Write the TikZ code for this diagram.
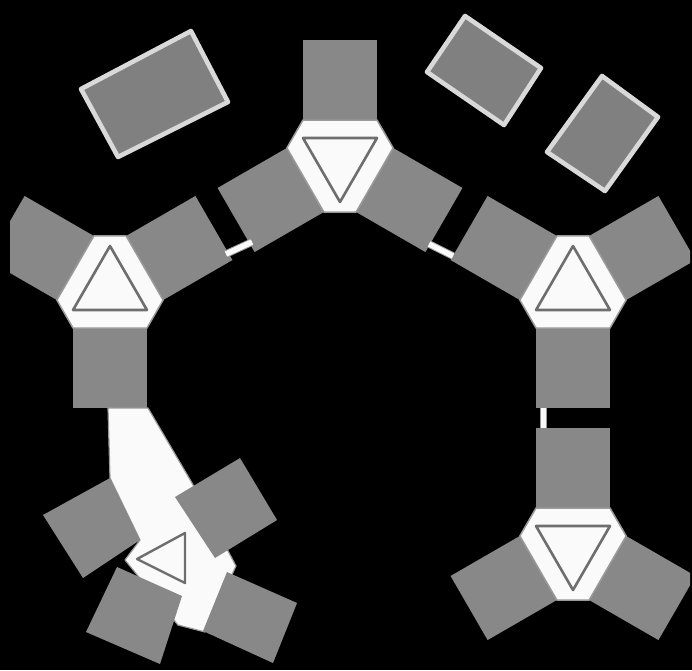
\documentclass[tikz,border=0pt]{standalone}
\begin{document}
\begin{tikzpicture}[x=1pt,y=-1pt]
\definecolor{armgray}{HTML}{888888}
\definecolor{rectgray}{HTML}{808080}
\definecolor{rectedge}{HTML}{D9D9D9}
\definecolor{hexwhite}{HTML}{FAFAFA}
\definecolor{hexedge}{HTML}{9A9A9A}
\definecolor{trigray}{HTML}{6E6E6E}
\tikzset{
  armfill/.style={fill=armgray},
  hexbody/.style={fill=hexwhite, draw=hexedge, line width=1.5pt, line join=round},
  triline/.style={draw=trigray, line width=2.6pt, line join=round},
  tile/.style={fill=rectgray, draw=rectedge, line width=4.6pt, line join=round},
  linkbar/.style={draw=hexedge, line width=1pt, double=hexwhite, double distance=5.5pt},
  unit/.pic={
    \foreach \a in {0,120,240}
      \fill[armfill, rotate=\a] (-37,-39) rectangle (37,-120);
    \path[hexbody] (-37,-40) -- (37,-40) -- (53.14,-12.04) -- (16.14,52.04)
      -- (-16.14,52.04) -- (-53.14,-12.04) -- cycle;
    \path[triline] (-37,-22) -- (37,-22) -- (0,42) -- cycle;
  }
}
\fill[black] (0,0) rectangle (692,670);
\useasboundingbox (0,0) rectangle (692,670);
\begin{scope}
\clip (10,0) rectangle (690,670);
% decorative tiles
\path[tile] (81,89) -- (191,31) -- (228,102) -- (118,157) -- cycle;
\path[tile] (427,72) -- (465,16) -- (541,68) -- (504,125) -- cycle;
\path[tile] (547,152) -- (602,76) -- (658,117) -- (605,191) -- cycle;
% units
\pic at (340,160) {unit};
\pic[rotate=180] at (110,288) {unit};
\pic[rotate=180] at (573,288) {unit};
\pic at (573,548) {unit};
% bottom-left unit
\path[hexbody, line width=1.2pt] (108,408) -- (148,408) -- (192,483) -- (236,566) -- (205,632)
  -- (178,625) -- (125,560) -- (140,540) -- (110,478) -- cycle;
\fill[armfill] (43,515) -- (110,478) -- (140,540) -- (83,578) -- cycle;
\fill[armfill] (175,497) -- (240,458) -- (277,520) -- (215,558) -- cycle;
\fill[armfill] (117,567) -- (182,596) -- (160,664) -- (86,632) -- cycle;
\fill[armfill] (227,572) -- (297,603) -- (273,663) -- (203,631) -- cycle;
\path[triline, line width=2.4pt] (137,559) -- (185,533) -- (185,583) -- cycle;
% link bars
\coordinate (b1a) at (226,254);
\coordinate (b1b) at (252,242);
\coordinate (b2a) at (429,244);
\coordinate (b2b) at (453,256);
\coordinate (b3a) at (543.5,408);
\coordinate (b3b) at (543.5,428);
\draw[linkbar] (b1a) -- (b1b);
\draw[linkbar] (b2a) -- (b2b);
\draw[linkbar] (b3a) -- (b3b);
\end{scope}
\end{tikzpicture}
\end{document}
